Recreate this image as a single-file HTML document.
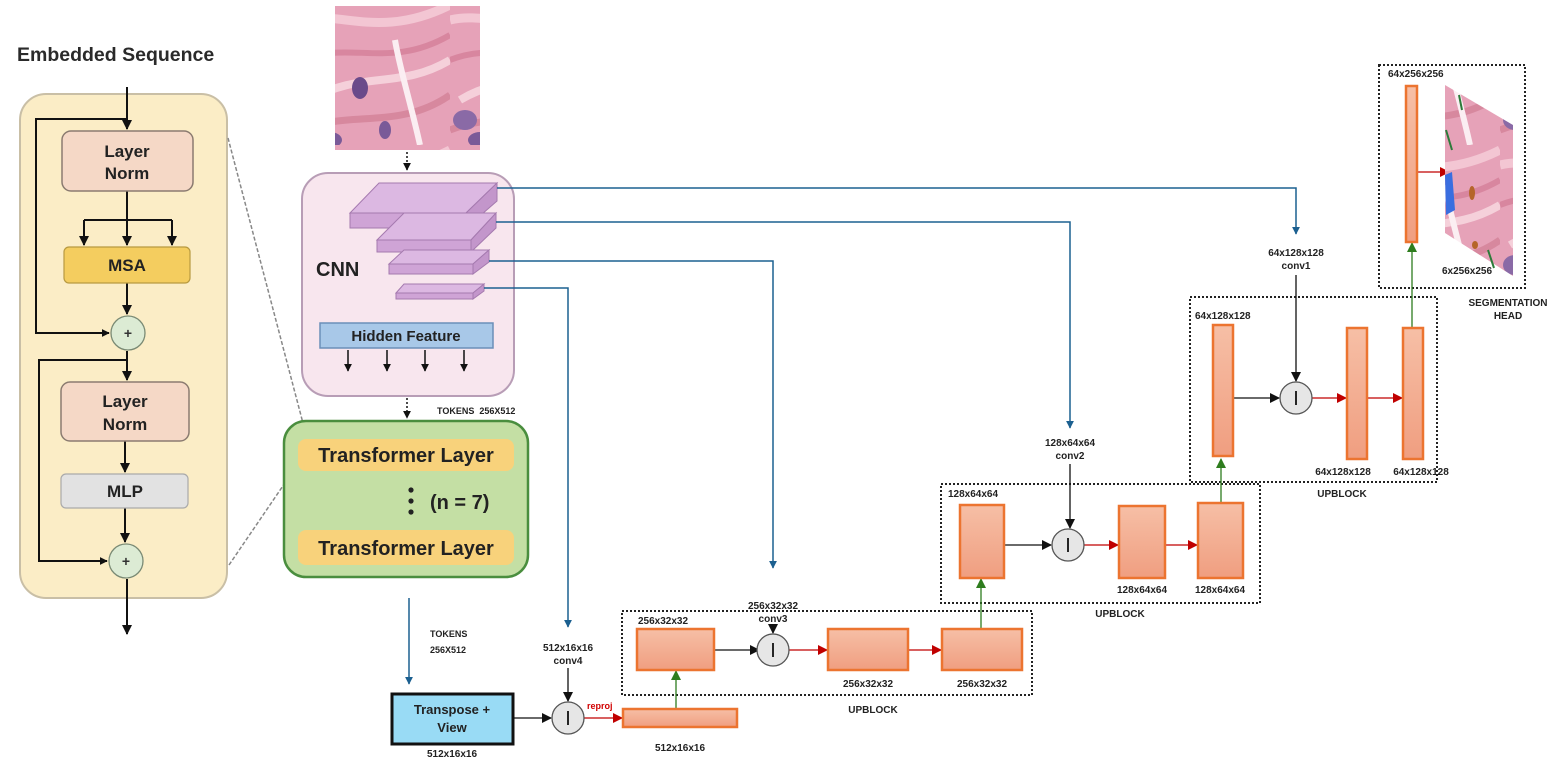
<!DOCTYPE html>
<html><head><meta charset="utf-8">
<style>
html,body{margin:0;padding:0;background:#fff;}
svg{display:block;}
text{font-family:"Liberation Sans",Arial,sans-serif;font-weight:bold;}
</style></head>
<body>
<svg width="1560" height="767" viewBox="0 0 1560 767" xmlns="http://www.w3.org/2000/svg">
<defs>
<marker id="ab" viewBox="0 0 10 10" refX="9" refY="5" markerUnits="userSpaceOnUse" markerWidth="10" markerHeight="10" orient="auto"><path d="M0,0L10,5L0,10z" fill="#111"/></marker>
<marker id="abs" viewBox="0 0 10 10" refX="9" refY="5" markerUnits="userSpaceOnUse" markerWidth="8" markerHeight="8" orient="auto"><path d="M0,0L10,5L0,10z" fill="#111"/></marker>
<marker id="ar" viewBox="0 0 10 10" refX="9" refY="5" markerUnits="userSpaceOnUse" markerWidth="10" markerHeight="10" orient="auto"><path d="M0,0L10,5L0,10z" fill="#c00000"/></marker>
<marker id="ag" viewBox="0 0 10 10" refX="9" refY="5" markerUnits="userSpaceOnUse" markerWidth="10" markerHeight="10" orient="auto"><path d="M0,0L10,5L0,10z" fill="#2e7d1e"/></marker>
<marker id="abl" viewBox="0 0 10 10" refX="9" refY="5" markerUnits="userSpaceOnUse" markerWidth="8" markerHeight="8" orient="auto"><path d="M0,0L10,5L0,10z" fill="#1c6090"/></marker>
<linearGradient id="og" x1="0" y1="0" x2="0" y2="1"><stop offset="0" stop-color="#f6bfa6"/><stop offset="1" stop-color="#f09e80"/></linearGradient>
<pattern id="tis" width="150" height="145" patternUnits="userSpaceOnUse">
<rect width="150" height="145" fill="#e6a2b8"/>
<path d="M0,20 C40,10 80,40 150,5" stroke="#f3c6d3" stroke-width="9" fill="none"/>
<path d="M0,60 C50,40 90,70 150,35" stroke="#d8869f" stroke-width="6" fill="none"/>
<path d="M10,100 C60,70 100,90 150,60" stroke="#f5d0da" stroke-width="8" fill="none"/>
<path d="M0,130 C50,110 100,130 150,95" stroke="#d7889e" stroke-width="7" fill="none"/>
<path d="M95,40 C100,70 110,100 120,145" stroke="#fbeef2" stroke-width="6" fill="none"/>
<ellipse cx="60" cy="88" rx="8" ry="11" fill="#6a4a8a"/>
<ellipse cx="15" cy="120" rx="12" ry="10" fill="#8a6aa6"/>
<ellipse cx="30" cy="140" rx="12" ry="8" fill="#7a5a98"/>
<ellipse cx="85" cy="130" rx="6" ry="9" fill="#7a5a98"/>
</pattern>
</defs>

<!-- LEFT PANEL -->
<text x="17" y="61" font-size="19.5" fill="#2a2a2a">Embedded Sequence</text>
<rect x="20" y="94" width="207" height="504" rx="26" fill="#fbedc6" stroke="#c9bfa6" stroke-width="2"/>
<g stroke="#111" stroke-width="2" fill="none">
<line x1="127" y1="87" x2="127" y2="129" marker-end="url(#ab)"/>
<polyline points="127,119 36,119 36,333 109,333" marker-end="url(#abs)"/>
<line x1="127" y1="191" x2="127" y2="245" marker-end="url(#ab)"/>
<line x1="84" y1="220" x2="172" y2="220"/>
<line x1="84" y1="220" x2="84" y2="245" marker-end="url(#ab)"/>
<line x1="172" y1="220" x2="172" y2="245" marker-end="url(#ab)"/>
<line x1="127" y1="283" x2="127" y2="314" marker-end="url(#ab)"/>
<line x1="127" y1="351" x2="127" y2="380" marker-end="url(#ab)"/>
<polyline points="127,360 39,360 39,561 107,561" marker-end="url(#abs)"/>
<line x1="125" y1="441" x2="125" y2="472" marker-end="url(#ab)"/>
<line x1="125" y1="508" x2="125" y2="542" marker-end="url(#ab)"/>
<line x1="127" y1="579" x2="127" y2="634" marker-end="url(#ab)"/>
</g>
<rect x="62" y="131" width="131" height="60" rx="9" fill="#f5d8c6" stroke="#8b7b70" stroke-width="1.5"/>
<text x="127" y="157" font-size="17" text-anchor="middle" fill="#222">Layer</text>
<text x="127" y="179" font-size="17" text-anchor="middle" fill="#222">Norm</text>
<rect x="64" y="247" width="126" height="36" rx="5" fill="#f4cd5f" stroke="#b89a40" stroke-width="1.2"/>
<text x="127" y="271" font-size="17" text-anchor="middle" fill="#222">MSA</text>
<circle cx="128" cy="333" r="17" fill="#dcebd4" stroke="#7a8a74" stroke-width="1.3"/>
<text x="128" y="338" font-size="14" text-anchor="middle" fill="#333" font-weight="normal">+</text>
<rect x="61" y="382" width="128" height="59" rx="9" fill="#f5d8c6" stroke="#8b7b70" stroke-width="1.5"/>
<text x="125" y="407" font-size="17" text-anchor="middle" fill="#222">Layer</text>
<text x="125" y="430" font-size="17" text-anchor="middle" fill="#222">Norm</text>
<rect x="61" y="474" width="127" height="34" rx="5" fill="#e2e2e2" stroke="#aaa" stroke-width="1.2"/>
<text x="125" y="497" font-size="17" text-anchor="middle" fill="#222">MLP</text>
<circle cx="126" cy="561" r="17" fill="#dcebd4" stroke="#7a8a74" stroke-width="1.3"/>
<text x="126" y="566" font-size="14" text-anchor="middle" fill="#333" font-weight="normal">+</text>
<line x1="228" y1="138" x2="304" y2="427" stroke="#888" stroke-width="1.5" stroke-dasharray="4,2"/>
<line x1="229" y1="565" x2="304" y2="455" stroke="#888" stroke-width="1.5" stroke-dasharray="4,2"/>

<!-- tissue input -->
<rect x="335" y="6" width="145" height="144" fill="url(#tis)"/>
<line x1="407" y1="152" x2="407" y2="170" stroke="#111" stroke-width="1.5" stroke-dasharray="2,2" marker-end="url(#abs)"/>

<!-- CNN box -->
<rect x="302" y="173" width="212" height="223" rx="26" fill="#f8e6ee" stroke="#b89db6" stroke-width="2"/>
<g stroke="#a57aaf" stroke-width="1">
<polygon points="350,213 379,183 497,183 466,213" fill="#dcb8e2"/>
<rect x="350" y="213" width="116" height="15" fill="#cfa4d6"/>
<polygon points="466,213 497,183 497,201 466,228" fill="#c396cb"/>
<polygon points="377,240 404,213 496,213 471,240" fill="#dcb8e2"/>
<rect x="377" y="240" width="94" height="12" fill="#cfa4d6"/>
<polygon points="471,240 496,213 496,228 471,252" fill="#c396cb"/>
<polygon points="389,264 404,250 489,250 473,264" fill="#dcb8e2"/>
<rect x="389" y="264" width="84" height="10" fill="#cfa4d6"/>
<polygon points="473,264 489,250 489,262 473,274" fill="#c396cb"/>
<polygon points="396,293 404,284 484,284 473,293" fill="#dcb8e2"/>
<rect x="396" y="293" width="77" height="6" fill="#cfa4d6"/>
<polygon points="473,293 484,284 484,291 473,299" fill="#c396cb"/>
</g>
<text x="316" y="276" font-size="20" fill="#222">CNN</text>
<rect x="320" y="323" width="173" height="25" fill="#a8c8e8" stroke="#6b8fb9" stroke-width="1.5"/>
<text x="406" y="341" font-size="15" text-anchor="middle" fill="#222">Hidden Feature</text>
<g stroke="#111" stroke-width="1.5">
<line x1="348" y1="350" x2="348" y2="371" marker-end="url(#abs)"/>
<line x1="387" y1="350" x2="387" y2="371" marker-end="url(#abs)"/>
<line x1="425" y1="350" x2="425" y2="371" marker-end="url(#abs)"/>
<line x1="464" y1="350" x2="464" y2="371" marker-end="url(#abs)"/>
<line x1="407" y1="398" x2="407" y2="418" stroke-dasharray="2,2" marker-end="url(#abs)"/>
</g>
<text x="437" y="414" font-size="9" fill="#222">TOKENS&#160; 256X512</text>

<!-- Transformer -->
<rect x="284" y="421" width="244" height="156" rx="22" fill="#c4dfa4" stroke="#4a8e3e" stroke-width="2.5"/>
<rect x="298" y="439" width="216" height="32" rx="8" fill="#f8d27b"/>
<text x="406" y="462" font-size="20" text-anchor="middle" fill="#222">Transformer Layer</text>
<circle cx="411" cy="490" r="2.6" fill="#222"/><circle cx="411" cy="501" r="2.6" fill="#222"/><circle cx="411" cy="512" r="2.6" fill="#222"/>
<text x="430" y="509" font-size="20" fill="#222">(n = 7)</text>
<rect x="298" y="530" width="216" height="35" rx="8" fill="#f8d27b"/>
<text x="406" y="555" font-size="20" text-anchor="middle" fill="#222">Transformer Layer</text>

<!-- Blue skip lines -->
<g stroke="#1c6090" stroke-width="1.5" fill="none">
<polyline points="497,188 1296,188 1296,234" marker-end="url(#abl)"/>
<polyline points="496,222 1070,222 1070,428" marker-end="url(#abl)"/>
<polyline points="489,261 773,261 773,568" marker-end="url(#abl)"/>
<polyline points="484,288 568,288 568,627" marker-end="url(#abl)"/>
<line x1="409" y1="598" x2="409" y2="684" marker-end="url(#abl)"/>
</g>
<text x="430" y="637" font-size="9" fill="#222">TOKENS</text>
<text x="430" y="653" font-size="9" fill="#222">256X512</text>

<!-- Bottom: Transpose -->
<rect x="392" y="694" width="121" height="50" fill="#99dbf5" stroke="#111" stroke-width="3"/>
<text x="452" y="714" font-size="13" text-anchor="middle" fill="#222">Transpose +</text>
<text x="452" y="732" font-size="13" text-anchor="middle" fill="#222">View</text>
<text x="452" y="757" font-size="10" text-anchor="middle" fill="#222">512x16x16</text>

<g font-size="10" fill="#222" text-anchor="middle">
<text x="568" y="651">512x16x16</text><text x="568" y="664">conv4</text>
<text x="773" y="609">256x32x32</text><text x="773" y="622">conv3</text>
<text x="1070" y="446">128x64x64</text><text x="1070" y="459">conv2</text>
<text x="1296" y="256">64x128x128</text><text x="1296" y="269">conv1</text>
<text x="680" y="751">512x16x16</text>
<text x="868" y="687">256x32x32</text>
<text x="982" y="687">256x32x32</text>
<text x="873" y="713">UPBLOCK</text>
<text x="1142" y="593">128x64x64</text>
<text x="1220" y="593">128x64x64</text>
<text x="1120" y="617">UPBLOCK</text>
<text x="1343" y="475">64x128x128</text>
<text x="1421" y="475">64x128x128</text>
<text x="1342" y="497">UPBLOCK</text>
<text x="1467" y="274">6x256x256</text>
<text x="1508" y="306">SEGMENTATION</text>
<text x="1508" y="319">HEAD</text>
</g>
<g font-size="10" fill="#222">
<text x="638" y="624">256x32x32</text>
<text x="948" y="497">128x64x64</text>
<text x="1195" y="319">64x128x128</text>
<text x="1388" y="77">64x256x256</text>
</g>
<text x="587" y="709" font-size="9" fill="#d00000">reproj</text>

<!-- dashed boxes -->
<g fill="none" stroke="#222" stroke-width="2" stroke-dasharray="2,2">
<rect x="622" y="611" width="410" height="84"/>
<rect x="941" y="484" width="319" height="119"/>
<rect x="1190" y="297" width="247" height="185"/>
<rect x="1379" y="65" width="146" height="223"/>
</g>

<!-- connectors -->
<g stroke-width="1.3" fill="none">
<line x1="513" y1="718" x2="551" y2="718" stroke="#111" marker-end="url(#ab)"/>
<line x1="568" y1="668" x2="568" y2="701" stroke="#111" marker-end="url(#ab)"/>
<line x1="584" y1="718" x2="622" y2="718" stroke="#c00000" marker-end="url(#ar)"/>
<line x1="676" y1="709" x2="676" y2="671" stroke="#2e7d1e" marker-end="url(#ag)"/>
<line x1="714" y1="650" x2="759" y2="650" stroke="#111" marker-end="url(#ab)"/>
<line x1="773" y1="624" x2="773" y2="633" stroke="#111" marker-end="url(#ab)"/>
<line x1="789" y1="650" x2="827" y2="650" stroke="#c00000" marker-end="url(#ar)"/>
<line x1="908" y1="650" x2="941" y2="650" stroke="#c00000" marker-end="url(#ar)"/>
<line x1="981" y1="629" x2="981" y2="579" stroke="#2e7d1e" marker-end="url(#ag)"/>
<line x1="1004" y1="545" x2="1051" y2="545" stroke="#111" marker-end="url(#ab)"/>
<line x1="1070" y1="464" x2="1070" y2="528" stroke="#111" marker-end="url(#ab)"/>
<line x1="1084" y1="545" x2="1118" y2="545" stroke="#c00000" marker-end="url(#ar)"/>
<line x1="1165" y1="545" x2="1197" y2="545" stroke="#c00000" marker-end="url(#ar)"/>
<line x1="1221" y1="503" x2="1221" y2="459" stroke="#2e7d1e" marker-end="url(#ag)"/>
<line x1="1233" y1="398" x2="1279" y2="398" stroke="#111" marker-end="url(#ab)"/>
<line x1="1296" y1="275" x2="1296" y2="381" stroke="#111" marker-end="url(#ab)"/>
<line x1="1312" y1="398" x2="1346" y2="398" stroke="#c00000" marker-end="url(#ar)"/>
<line x1="1367" y1="398" x2="1402" y2="398" stroke="#c00000" marker-end="url(#ar)"/>
<line x1="1412" y1="328" x2="1412" y2="243" stroke="#2e7d1e" marker-end="url(#ag)"/>
<line x1="1417" y1="172" x2="1449" y2="172" stroke="#c00000" marker-end="url(#ar)"/>
</g>

<!-- circles -->
<g fill="#e6e6e6" stroke="#555" stroke-width="1.3">
<circle cx="568" cy="718" r="16"/><circle cx="773" cy="650" r="16"/><circle cx="1068" cy="545" r="16"/><circle cx="1296" cy="398" r="16"/>
</g>
<g stroke="#111" stroke-width="1.8">
<line x1="568" y1="711" x2="568" y2="725"/><line x1="773" y1="643" x2="773" y2="657"/><line x1="1068" y1="538" x2="1068" y2="552"/><line x1="1296" y1="391" x2="1296" y2="405"/>
</g>

<!-- orange boxes -->
<g fill="url(#og)" stroke="#ec7430" stroke-width="2.5">
<rect x="623" y="709" width="114" height="18"/>
<rect x="637" y="629" width="77" height="41"/>
<rect x="828" y="629" width="80" height="41"/>
<rect x="942" y="629" width="80" height="41"/>
<rect x="960" y="505" width="44" height="73"/>
<rect x="1119" y="506" width="46" height="72"/>
<rect x="1198" y="503" width="45" height="75"/>
<rect x="1213" y="325" width="20" height="131"/>
<rect x="1347" y="328" width="20" height="131"/>
<rect x="1403" y="328" width="20" height="131"/>
<rect x="1406" y="86" width="11" height="156"/>
</g>

<!-- output tissue parallelogram -->
<polygon points="1445,85 1513,125 1513,276 1445,233" fill="url(#tis)"/>
<polygon points="1445,175 1452,172 1455,210 1446,215" fill="#3a6ee0"/>
<ellipse cx="1472" cy="193" rx="3" ry="7" fill="#b5652a"/>
<ellipse cx="1475" cy="245" rx="3" ry="4" fill="#b5652a"/>
<line x1="1459" y1="95" x2="1462" y2="110" stroke="#2d7a3a" stroke-width="2"/>
<line x1="1446" y1="130" x2="1452" y2="150" stroke="#2d7a3a" stroke-width="2"/>
<line x1="1488" y1="250" x2="1494" y2="268" stroke="#2d7a3a" stroke-width="2"/>
</svg>
</body></html>
